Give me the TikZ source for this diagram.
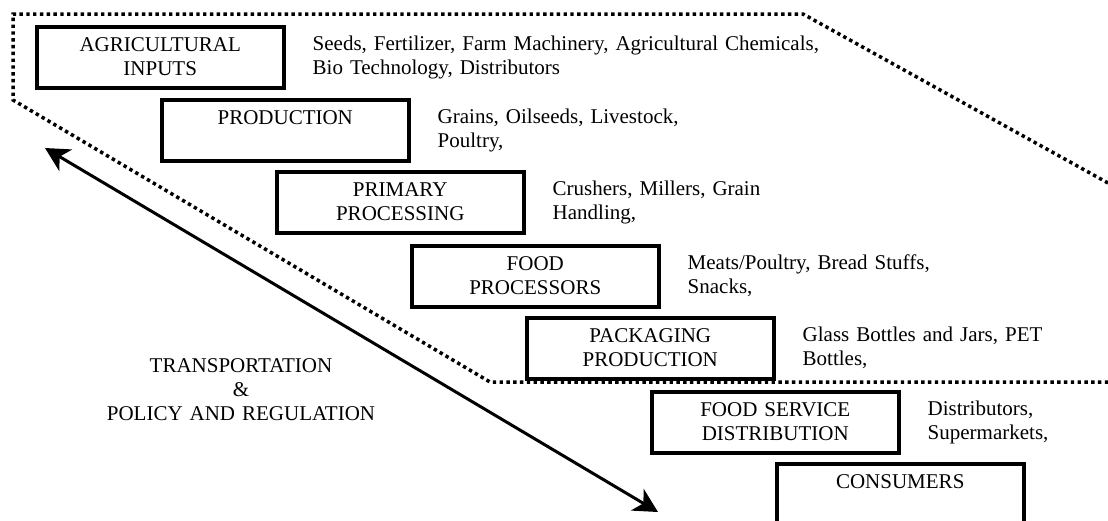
\documentclass[tikz,border=0pt]{standalone}
\usepackage{fontspec}
\setmainfont{Liberation Serif}
\usetikzlibrary{arrows.meta}
\tikzset{
  txt/.style={font=\fontsize{21}{24}\selectfont, inner sep=0pt},
  stage/.style={txt, draw, line width=3.5pt, anchor=north west, text width=247pt,
    align=center, text height=25pt, text depth=36pt},
  desc/.style={txt, anchor=base west, text width=560pt, align=left},
  border/.style={line width=3.5pt, dash pattern=on 3.4pt off 3.4pt},
  flow/.style={line width=3pt, {Stealth[length=24pt,width=25pt,inset=7pt]}-{Stealth[length=24pt,width=25pt,inset=7pt]}}
}
\begin{document}
\begin{tikzpicture}[x=1pt,y=-1pt]
\useasboundingbox (0,0) rectangle (1108,520);
\begin{scope}
\clip (0,0) rectangle (1108,520);
% dotted outline
\draw[border] (1108,183) -- (803,14) -- (13,14) -- (13,100) -- (490,382) -- (1108,382);
% stages
\node[stage] (b1) at (35,25)  {AGRICULTURAL\\INPUTS};
\node[stage] (b2) at (160,98) {PRODUCTION};
\node[stage] (b3) at (275,170) {PRIMARY\\PROCESSING};
\node[stage] (b4) at (410,244) {FOOD\\PROCESSORS};
\node[stage] (b5) at (525,316) {PACKAGING\\PRODUCTION};
\node[stage] (b6) at (650,390) {FOOD SERVICE\\DISTRIBUTION};
\node[stage] (b7) at (775,462) {CONSUMERS};
% descriptions
\node[desc] (d1) at ([xshift=27pt,yshift=-25pt]b1.north east) {Seeds, Fertilizer, Farm Machinery, Agricultural Chemicals,\\Bio Technology, Distributors};
\node[desc] (d2) at ([xshift=27pt,yshift=-25pt]b2.north east) {Grains, Oilseeds, Livestock,\\Poultry,};
\node[desc] (d3) at ([xshift=27pt,yshift=-25pt]b3.north east) {Crushers, Millers, Grain\\Handling,};
\node[desc] (d4) at ([xshift=27pt,yshift=-25pt]b4.north east) {Meats/Poultry, Bread Stuffs,\\Snacks,};
\node[desc] (d5) at ([xshift=27pt,yshift=-25pt]b5.north east) {Glass Bottles and Jars, PET\\Bottles,};
\node[desc] (d6) at ([xshift=27pt,yshift=-25pt]b6.north east) {Distributors,\\Supermarkets,};
% transportation arrow
\coordinate (aS) at (45,148);
\coordinate (aE) at (658,512);
\draw[flow] (aS) -- (aE);
\node[txt, anchor=base, text width=320pt, align=center] (tp) at (241,372) {TRANSPORTATION\\\&\\POLICY AND REGULATION};
\end{scope}
\end{tikzpicture}
\end{document}
